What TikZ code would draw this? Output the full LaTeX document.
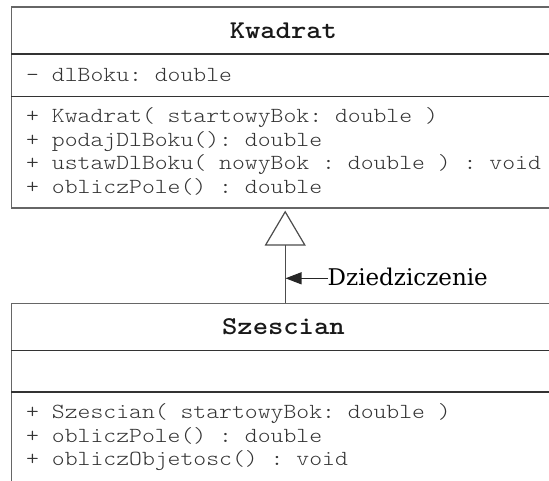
\documentclass[tikz,border=0pt]{standalone}
\usepackage{fontspec}
\setmonofont{Latin Modern Mono Light}[FakeStretch=1.14]
\newfontfamily\dzfont{DejaVu Serif}
\usepackage{tikz}
\usetikzlibrary{arrows.meta,positioning,calc}
\newcommand{\memb}[1]{\fontsize{21.5}{23.5}\selectfont#1}

\tikzset{
    umlbox/.style={draw=black!60,line width=1.3pt,rectangle,anchor=north west,inner sep=0pt},
    clsname/.style={font=\ttfamily\bfseries\fontsize{25.6}{28}\selectfont,anchor=base,inner sep=0pt,text=black!90},
    member/.style={font=\ttfamily,anchor=base west,inner sep=0pt,text=black!80},
    divider/.style={draw=black!80,line width=1.1pt},
    inherit/.style={draw=black!70,line width=1.2pt,shorten >=1.8pt,-{Triangle[open,length=35pt,width=41pt,fill=white]}},
    pointer/.style={draw=black!85,line width=1.1pt,-{Triangle[length=16pt,width=12pt]}}
}

\begin{document}
\begin{tikzpicture}[x=1pt,y=-1pt]
    \useasboundingbox (0,0) rectangle (549,481);
    \clip (0,0) rectangle (549,481);
    \node[umlbox,minimum width=543.5pt,minimum height=201.2pt] (kwadrat) at (11,6.3) {};
    \node[umlbox,minimum width=543.5pt,minimum height=200pt] (szescian) at (11,302.7) {};
    \draw[divider] (kwadrat.west |- 0,54) -- (kwadrat.east |- 0,54);
    \draw[divider] (kwadrat.west |- 0,96.3) -- (kwadrat.east |- 0,96.3);
    \draw[divider] (szescian.west |- 0,350.7) -- (szescian.east |- 0,350.7);
    \draw[divider] (szescian.west |- 0,392) -- (szescian.east |- 0,392);
    \node[clsname] (kwadratName) at (kwadrat.north |- 0,38.3) {Kwadrat};
    \node[clsname] (szescianName) at (szescian.north |- 0,334.3) {Szescian};
    \node[member] (kAttr) at (26,81.7) {\memb{- dlBoku: double}};
    \node[member] (kOp1) at (26,123) {\memb{+ Kwadrat( startowyBok: double )}};
    \node[member] (kOp2) at (26,146.5) {\memb{+ podajDlBoku(): double}};
    \node[member] (kOp3) at (26,170) {\memb{+ ustawDlBoku( nowyBok : double ) : void}};
    \node[member] (kOp4) at (26,193.5) {\memb{+ obliczPole() : double}};
    \node[member] (sOp1) at (26,418.7) {\memb{+ Szescian( startowyBok: double )}};
    \node[member] (sOp2) at (26,442.2) {\memb{+ obliczPole() : double}};
    \node[member] (sOp3) at (26,465.7) {\memb{+ obliczObjetosc() : void}};
    \draw[inherit] ([xshift=1.8pt]szescian.north) -- ([xshift=1.8pt]kwadrat.south);
    \node[anchor=base west,inner sep=0pt,font=\dzfont\fontsize{23}{25}\selectfont] (dziedz) at (327.5,285) {Dziedziczenie};
    \coordinate (inhPoint) at (285.5,278.3);
    \draw[pointer] (dziedz.west |- inhPoint) -- (inhPoint);
\end{tikzpicture}
\end{document}
